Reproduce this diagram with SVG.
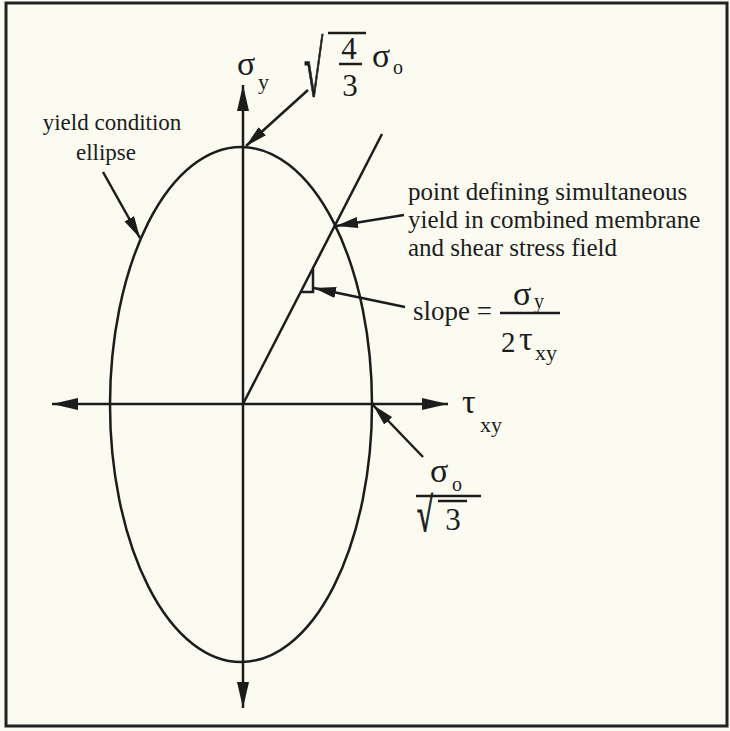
<svg xmlns="http://www.w3.org/2000/svg" width="730" height="731" viewBox="0 0 730 731">
<style>
.ln{fill:none;stroke:#1c1c1c;stroke-width:2.5}
.t{font-family:"Liberation Serif","Times New Roman",serif;fill:#1c1c1c}
.w{font-size:25px}
.g{font-size:34px}
.s{font-size:22px}
.rad{stroke:#1c1c1c;stroke-width:1.2}
</style>
<defs>
<marker id="ax" viewBox="0 0 26 12" refX="26" refY="6" markerWidth="26" markerHeight="12" markerUnits="userSpaceOnUse" orient="auto-start-reverse">
<path d="M0,0 L26,6 L0,12 z" fill="#1c1c1c"/>
</marker>
<marker id="ar" viewBox="0 0 22 11" refX="22" refY="5.5" markerWidth="22" markerHeight="11" markerUnits="userSpaceOnUse" orient="auto">
<path d="M0,0 L22,5.5 L0,11 z" fill="#1c1c1c"/>
</marker>
</defs>
<rect x="0" y="0" width="730" height="731" fill="#fbfbf1"/>
<rect x="6" y="3" width="721" height="723" fill="none" stroke="#222" stroke-width="3"/>

<g id="ellipse">
<ellipse class="ln" cx="241" cy="404.5" rx="131" ry="257.5" stroke-width="2.3"/>
</g>

<g id="connectors">
<line class="ln" x1="243" y1="708" x2="243" y2="85" marker-start="url(#ax)" marker-end="url(#ax)"/>
<line class="ln" x1="448" y1="404" x2="52" y2="404" marker-start="url(#ax)" marker-end="url(#ax)"/>
<line class="ln" x1="243" y1="404" x2="382" y2="134"/>
<polyline class="ln" points="301,292 313,292 313,269" stroke-width="2"/>
<line class="ln" x1="308" y1="90" x2="246" y2="146" marker-end="url(#ar)"/>
<line class="ln" x1="103" y1="172" x2="140" y2="238" marker-end="url(#ar)"/>
<line class="ln" x1="404" y1="215" x2="336" y2="226" marker-end="url(#ar)"/>
<line class="ln" x1="405" y1="307" x2="314" y2="288" marker-end="url(#ar)"/>
<line class="ln" x1="423" y1="457" x2="373" y2="405" marker-end="url(#ar)"/>
</g>

<g id="label-sigma-y">
<text class="t g" x="237" y="75">σ</text>
<text class="t s" x="258" y="89">y</text>
</g>

<g id="label-top">
<text class="t rad" font-size="78" transform="translate(304,96) scale(0.45,1)">√</text>
<line class="ln" x1="328" y1="33" x2="366" y2="33"/>
<text class="t" font-size="31" x="349" y="59" text-anchor="middle">4</text>
<line class="ln" x1="339" y1="64" x2="362" y2="64"/>
<text class="t" font-size="31" x="350" y="96" text-anchor="middle">3</text>
<text class="t g" x="372" y="67">σ</text>
<text class="t" font-size="20" x="393" y="74">o</text>
</g>

<g id="label-yield-condition">
<text class="t" font-size="23" x="112" y="130" text-anchor="middle">yield condition</text>
<text class="t" font-size="23" x="106" y="160" text-anchor="middle">ellipse</text>
</g>

<g id="label-point">
<text class="t w" x="408" y="200">point defining simultaneous</text>
<text class="t w" x="408" y="228">yield in combined membrane</text>
<text class="t w" x="408" y="256">and shear stress field</text>
</g>

<g id="label-slope">
<text class="t" font-size="27" x="413" y="320">slope =</text>
<line class="ln" x1="500" y1="313" x2="560" y2="313"/>
<text class="t g" x="513" y="305">σ</text>
<text class="t" font-size="20" x="534" y="308">y</text>
<text class="t" font-size="29" x="501" y="352">2</text>
<text class="t g" x="519" y="350">τ</text>
<text class="t s" x="535" y="360">xy</text>
</g>

<g id="label-tau">
<text class="t g" x="462" y="413">τ</text>
<text class="t s" x="480" y="432">xy</text>
</g>

<g id="label-sigma-o">
<text class="t g" x="430" y="482">σ</text>
<text class="t" font-size="20" x="452" y="491">o</text>
<line class="ln" x1="416" y1="496" x2="481" y2="496"/>
<text class="t rad" font-size="48" transform="translate(417,531) scale(0.6,1)">√</text>
<line class="ln" x1="438" y1="501" x2="467" y2="501"/>
<text class="t" font-size="31" x="453" y="530" text-anchor="middle">3</text>
</g>
</svg>
